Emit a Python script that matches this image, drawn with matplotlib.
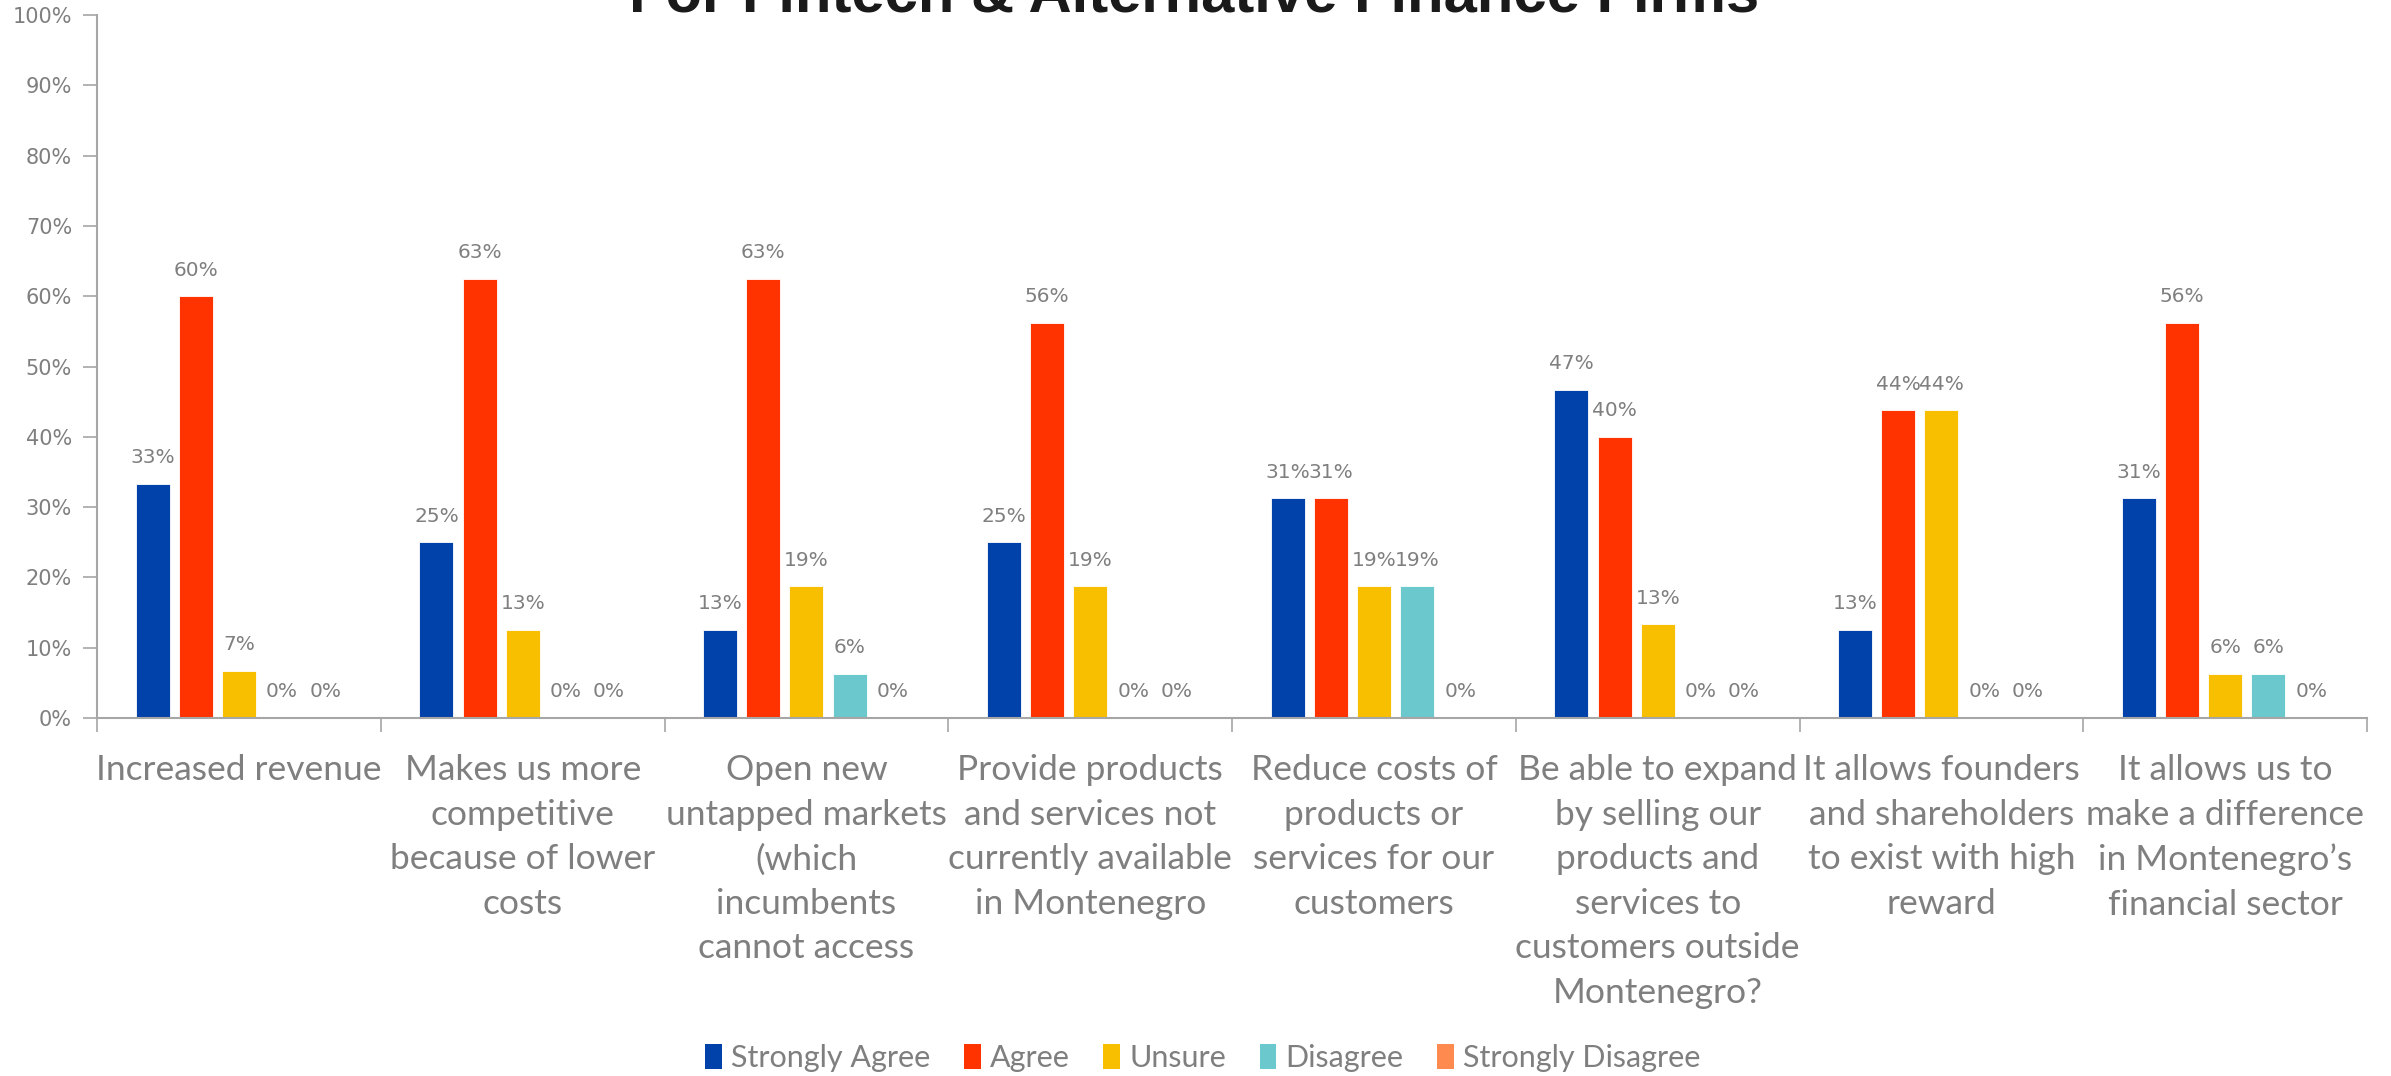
import math

import matplotlib
matplotlib.use("Agg")
import matplotlib.pyplot as plt
from matplotlib.patches import Patch

# survey answers per statement (share of respondents, %)
categories = [
    "Increased revenue",
    "Makes us more\ncompetitive\nbecause of lower\ncosts",
    "Open new\nuntapped markets\n(which\nincumbents\ncannot access",
    "Provide products\nand services not\ncurrently available\nin Montenegro",
    "Reduce costs of\nproducts or\nservices for our\ncustomers",
    "Be able to expand\nby selling our\nproducts and\nservices to\ncustomers outside\nMontenegro?",
    "It allows founders\nand shareholders\nto exist with high\nreward",
    "It allows us to\nmake a difference\nin Montenegro\u2019s\nfinancial sector",
]
answers = ["Strongly Agree", "Agree", "Unsure", "Disagree", "Strongly Disagree"]

strongly_agree = [33.33, 25.0, 12.5, 25.0, 31.25, 46.67, 12.5, 31.25]
agree = [60.0, 62.5, 62.5, 56.25, 31.25, 40.0, 43.75, 56.25]
unsure = [6.67, 12.5, 18.75, 18.75, 18.75, 13.33, 43.75, 6.25]
disagree = [0.0, 0.0, 6.25, 0.0, 18.75, 0.0, 0.0, 6.25]
strongly_disagree = [0.0, 0.0, 0.0, 0.0, 0.0, 0.0, 0.0, 0.0]

series = [strongly_agree, agree, unsure, disagree, strongly_disagree]
colors = ["#0041aa", "#ff3300", "#f8be00", "#6bc8cc", "#ff8a50"]

yticks = [0, 10, 20, 30, 40, 50, 60, 70, 80, 90, 100]

label_font = "Lato"
grey = "#7f7f7f"
axis_grey = "#a6a6a6"


def pct(v):
    # round half up, like the spreadsheet does
    return f"{int(math.floor(v + 0.5))}%"


fig = plt.figure(figsize=(23.91, 10.76), dpi=100)
ax = fig.add_axes([0.0406, 0.3327, 0.9494, 0.6533])

n = len(categories)
pitch = 0.152
width = 0.12
for i, (vals, col, name) in enumerate(zip(series, colors, answers)):
    xs = [c + (i - 2) * pitch for c in range(n)]
    ax.bar(xs, vals, width=width, color=col, edgecolor="white",
           linewidth=0.6, label=name)
    for x, v in zip(xs, vals):
        ax.annotate(pct(v), (x, v), xytext=(0, 12), textcoords="offset points",
                    ha="center", va="bottom", fontsize=14.5, color=grey,
                    family="DejaVu Sans")

ax.set_xlim(-0.5, n - 0.5)
ax.set_ylim(0, 100)
ax.set_yticks(yticks)
ax.set_yticklabels([f"{t}%" for t in yticks], fontsize=15, color=grey,
                   family="DejaVu Sans")

# group separators as major ticks, statement text on minor ticks
ax.set_xticks([k - 0.5 for k in range(n + 1)])
ax.set_xticklabels([])
ax.set_xticks(range(n), minor=True)
ax.set_xticklabels(categories, minor=True, fontsize=25.5, color=grey,
                   family=label_font, linespacing=1.48, va="top")
ax.tick_params(axis="x", which="major", length=10, color=axis_grey, width=1.2)
ax.tick_params(axis="x", which="minor", length=0, pad=26)
ax.tick_params(axis="y", length=10, color=axis_grey, width=1.2, pad=8)

for side in ["top", "right"]:
    ax.spines[side].set_visible(False)
for side in ["left", "bottom"]:
    ax.spines[side].set_color(axis_grey)
    ax.spines[side].set_linewidth(1.5)

fig.text(0.4995, 0.9889, "For Fintech & Alternative Finance Firms",
         ha="center", va="baseline", fontsize=43, fontweight="bold",
         color="#1a1a1a", family="Liberation Sans")

handles = [Patch(facecolor=c, label=a) for c, a in zip(colors, answers)]
fig.legend(handles=handles, loc="center", bbox_to_anchor=(0.503, 0.0167),
           ncol=5, frameon=False, prop={"family": label_font, "size": 22},
           labelcolor=grey, handlelength=0.55, handleheight=0.85,
           handletextpad=0.3, columnspacing=1.1)

fig.savefig("out.png", dpi=100)
